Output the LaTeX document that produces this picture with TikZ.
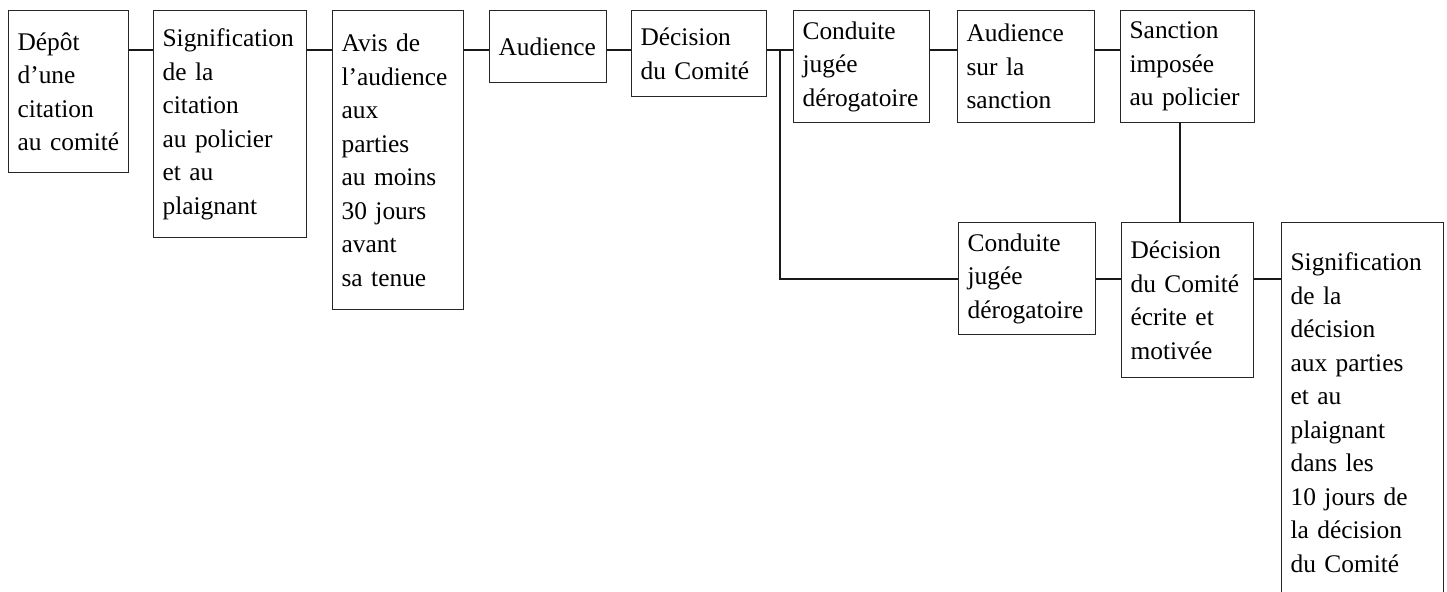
\documentclass[tikz,border=0pt]{standalone}
\usepackage{fontspec}
\setmainfont{Liberation Serif}
\usetikzlibrary{positioning,calc}
\tikzset{
  etape/.style={draw=black!85, line width=0.6pt, anchor=north west, align=left,
    inner xsep=4.5pt, inner ysep=0pt, font=\fontsize{12.7}{16.75}\selectfont},
  lien/.style={draw=black!90, line width=1pt}
}
\begin{document}
\begin{tikzpicture}[x=0.5pt,y=-0.5pt]
  \useasboundingbox (0,0) rectangle (1447,592);
  % premiere rangee
  \node[etape, text width=51pt, minimum height=81pt] (depot) at (8,10)
    {Dépôt\\d’une\\citation\\au comité};
  \node[etape, text width=67.5pt, minimum height=113.5pt] (signif) at (153,10)
    {Signification\\de la\\citation\\au policier\\et au\\plaignant};
  \node[etape, text width=56.5pt, minimum height=149.5pt] (avis) at (332,10)
    {Avis de\\l’audience\\aux\\parties\\au moins\\30 jours\\avant\\sa tenue};
  \node[etape, text width=49.5pt, minimum height=36pt] (aud) at (489,10)
    {Audience};
  \node[etape, text width=58.5pt, minimum height=43pt] (decis) at (631,10)
    {Décision\\du Comité};
  \node[etape, text width=59pt, minimum height=56pt] (condh) at (793,10)
    {Conduite\\jugée\\dérogatoire};
  \node[etape, text width=59.5pt, minimum height=56pt] (audsanc) at (957,10)
    {Audience\\sur la\\sanction};
  \node[etape, text width=58pt, minimum height=56pt] (sanc) at (1120,10)
    {Sanction\\imposée\\au policier};
  % deuxieme rangee
  \node[etape, text width=59.5pt, minimum height=56pt] (condb) at (958,222)
    {Conduite\\jugée\\dérogatoire};
  \node[etape, text width=57pt, minimum height=77.5pt] (ecrite) at (1121,222)
    {Décision\\du Comité\\écrite et\\motivée};
  \node[etape, text width=72pt, minimum height=190pt] (sigdec) at (1281,222)
    {Signification\\de la\\décision\\aux parties\\et au\\plaignant\\dans les\\10 jours de\\la décision\\du Comité};

  \draw[lien] ([yshift=-20pt]depot.north east) -- ([yshift=-20pt]signif.north west);
  \draw[lien] ([yshift=-20pt]signif.north east) -- ([yshift=-20pt]avis.north west);
  \draw[lien] ([yshift=-20pt]avis.north east) -- ([yshift=-20pt]aud.north west);
  \draw[lien] ([yshift=-20pt]aud.north east) -- ([yshift=-20pt]decis.north west);
  \draw[lien] ([yshift=-20pt]decis.north east) -- ([yshift=-20pt]condh.north west);
  \draw[lien] ([yshift=-20pt]condh.north east) -- ([yshift=-20pt]audsanc.north west);
  \draw[lien] ([yshift=-20pt]audsanc.north east) -- ([yshift=-20pt]sanc.north west);
  \coordinate (embr) at ($([yshift=-20pt]decis.north east)!0.5!([yshift=-20pt]condh.north west)$);
  \draw[lien] (embr) |- (condb.west);
  \draw[lien] ([xshift=-4pt]sanc.south) -- ([xshift=-4pt]sanc.south |- ecrite.north);
  \draw[lien] (condb.east) -- (condb.east -| ecrite.west);
  \draw[lien] (condb.east -| ecrite.east) -- (condb.east -| sigdec.west);
\end{tikzpicture}
\end{document}
